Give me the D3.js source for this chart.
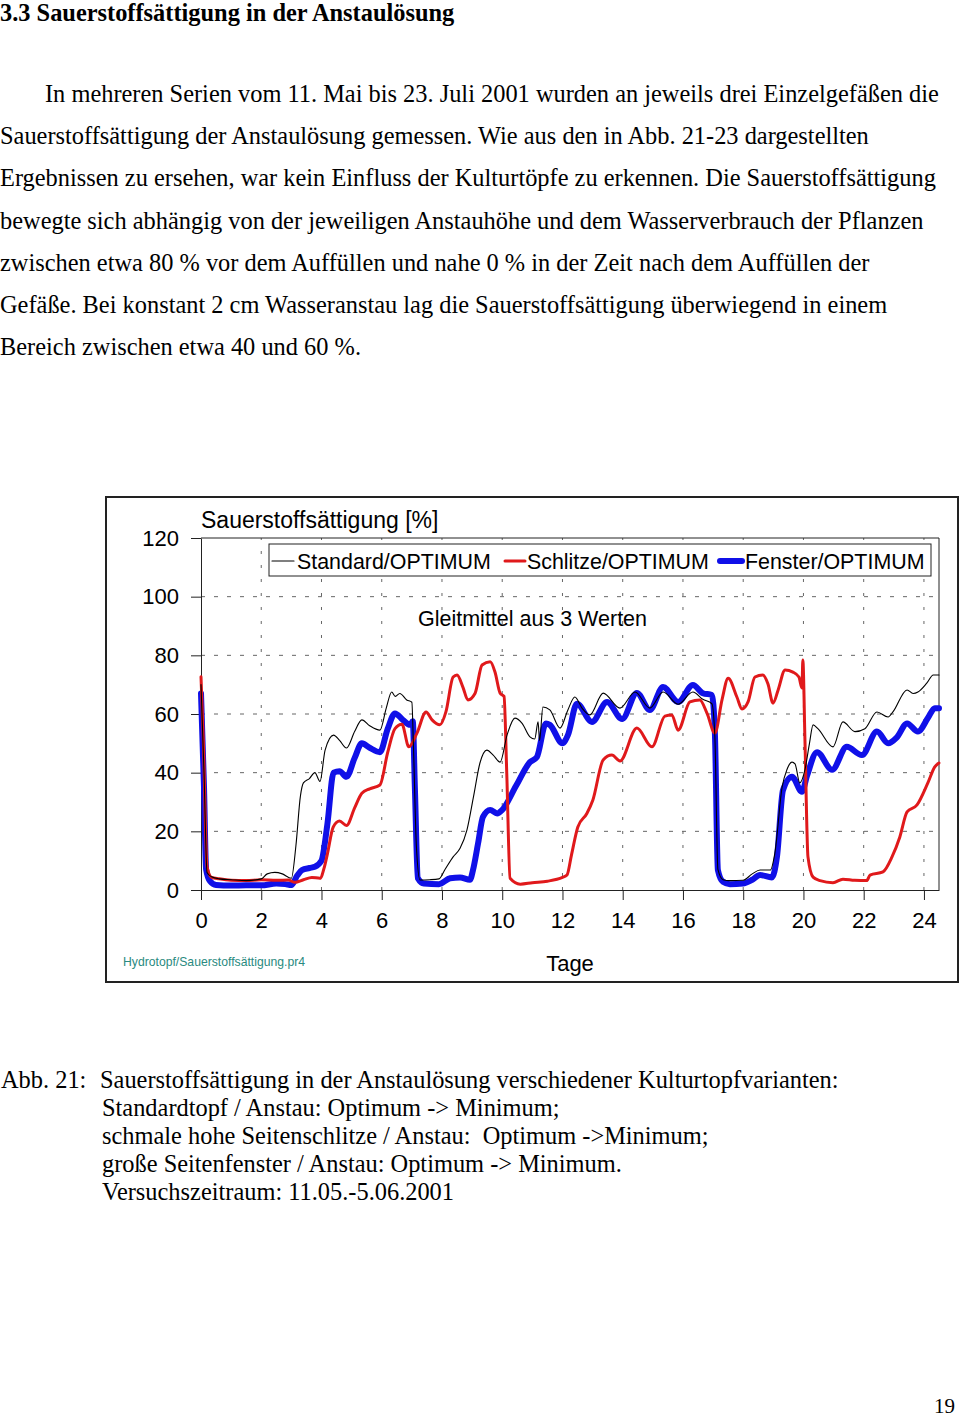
<!DOCTYPE html>
<html><head><meta charset="utf-8">
<script src="https://cdn.jsdelivr.net/npm/d3@7"></script>
<style>
html,body{margin:0;padding:0;background:#fff;}
svg text{white-space:pre;}
</style></head>
<body>
<svg id="page" width="960" height="1418"></svg>
<script>
// ---- data (days, % saturation) ----
const standard = [[0.0,70],[0.1,40],[0.2,6],[0.35,4.5],[0.6,3.8],[1.0,3.5],[1.5,3.2],[2.0,3.8],[2.2,5.5],[2.45,6],[2.7,5.5],[3.0,4],[3.15,15],[3.3,32],[3.4,36.5],[3.6,38],[3.78,40],[3.95,37],[4.12,47.7],[4.4,52.8],[4.6,51],[4.83,48.4],[5.1,54],[5.34,58],[5.6,56],[5.94,54.5],[6.15,62],[6.33,67.5],[6.45,66],[6.6,67],[6.83,64.8],[7.0,64],[7.05,50],[7.15,15],[7.27,3.4],[7.6,3.5],[7.9,3.8],[8.1,7],[8.37,11.3],[8.6,14.2],[8.83,20.5],[9.05,32],[9.26,43.3],[9.49,47.7],[9.7,46],[9.93,43.6],[10.16,52.8],[10.42,58.6],[10.66,56.8],[10.92,52.2],[11.08,51.5],[11.19,57.3],[11.24,51],[11.35,62.4],[11.58,61.4],[11.92,55.2],[12.18,61.4],[12.41,65.8],[12.65,62],[12.91,59.7],[13.35,67.1],[13.91,62],[14.41,67.5],[14.9,62],[15.34,67.5],[15.84,63.3],[16.33,67.5],[16.66,65],[16.96,63.5],[17.06,52],[17.16,7],[17.33,3.5],[17.56,3.2],[17.99,3.3],[18.3,5.5],[18.56,6.8],[18.9,6.8],[19.05,12.5],[19.29,35],[19.45,41],[19.62,43.6],[19.72,43],[19.88,36.5],[20.05,41],[20.2,50],[20.32,56.3],[20.48,55],[20.98,48.8],[21.31,57.3],[21.71,54],[22.04,55],[22.44,60.7],[22.81,59],[22.97,60.7],[23.44,68.2],[23.64,67],[23.8,67.5],[24.1,70.6],[24.31,73.3],[24.5,73.3]];
const schlitze = [[0.0,72.7],[0.08,50],[0.2,8],[0.35,4.3],[0.6,3.8],[1.0,3.3],[1.5,3.2],[2.0,3.5],[2.5,3.3],[2.9,3.4],[3.12,2.6],[3.4,3.5],[3.68,4.3],[3.95,4],[4.1,8],[4.2,12.5],[4.39,21.5],[4.6,23.5],[4.83,22],[5.1,28],[5.34,33],[5.6,34.5],[5.94,35.8],[6.2,47],[6.44,55],[6.67,56.5],[6.9,48.8],[7.17,53.5],[7.47,60.7],[7.67,58],[7.93,56.3],[8.13,60.7],[8.37,72.6],[8.5,73.3],[8.7,69],[8.86,64.8],[9.1,67.1],[9.33,76.7],[9.6,77.8],[9.76,74.3],[9.93,67.1],[10.06,66],[10.15,40],[10.26,4],[10.6,2],[11.0,2.5],[11.5,3],[12.0,4.3],[12.15,5.1],[12.3,12],[12.51,21.5],[12.81,26.1],[13.01,30.7],[13.35,44.3],[13.64,46],[13.91,44],[14.47,55.2],[14.97,48.8],[15.4,59.3],[15.63,59.7],[15.84,54.5],[16.23,64.1],[16.56,64.8],[16.8,60.2],[17.06,53.5],[17.3,65],[17.5,72.2],[17.79,65.8],[17.96,61.7],[18.16,64.1],[18.39,72.6],[18.65,73.3],[18.82,70.3],[18.99,63.7],[19.16,68.2],[19.39,75],[19.65,74.3],[19.85,72.6],[19.95,68.9],[19.98,78.4],[20.05,51],[20.15,11.3],[20.32,4.4],[20.55,3.2],[20.98,2.5],[21.31,3.7],[21.7,3.3],[22.1,3.2],[22.21,5.1],[22.64,6.2],[22.94,11.3],[23.2,18.1],[23.44,26.6],[23.77,29],[24.13,36.5],[24.36,42],[24.5,43.3]];
const fenster = [[0.0,67],[0.1,35],[0.17,7],[0.3,3],[0.5,1.7],[1.0,1.5],[1.5,1.6],[2.0,1.6],[2.5,2.2],[2.8,2.0],[3.0,1.7],[3.2,5],[3.35,6.8],[3.6,7.5],[3.78,7.9],[4.0,10],[4.2,22.8],[4.4,40],[4.6,40.5],[4.83,38.6],[5.1,45],[5.34,50],[5.6,48.5],[5.94,47],[6.2,55],[6.44,60.2],[6.7,58],[6.94,56.3],[7.03,57.5],[7.1,35],[7.2,4],[7.4,2.2],[7.9,2.0],[8.27,4],[8.6,4.3],[8.93,3.5],[9.03,6.8],[9.2,16],[9.36,24.9],[9.6,27.3],[9.83,26.1],[10.0,27.3],[10.46,35.5],[10.92,43.6],[11.15,45.3],[11.45,56.8],[11.58,56.3],[12.0,50],[12.18,52.8],[12.48,63.5],[12.98,57.3],[13.48,64.1],[13.98,58.3],[14.47,67.2],[14.9,61.4],[15.34,69.2],[15.84,64.1],[16.33,69.9],[16.66,67.1],[16.96,66.5],[17.06,53.5],[17.16,6.8],[17.33,2.8],[17.56,2.0],[17.99,2.2],[18.3,3.5],[18.56,5.1],[18.95,4.3],[19.12,11.3],[19.32,34],[19.62,38.6],[19.95,33.5],[20.12,39],[20.45,47],[20.95,41],[21.44,48.8],[21.94,46],[22.44,54],[22.81,50],[23.1,52],[23.44,56.8],[23.8,54],[24.13,58.6],[24.36,62],[24.5,62]];
const xTicks = [0,2,4,6,8,10,12,14,16,18,20,22,24];
const yTicks = [0,20,40,60,80,100,120];
const seriesNames = ["Standard/OPTIMUM","Schlitze/OPTIMUM","Fenster/OPTIMUM"];
const titleText = "3.3 Sauerstoffsättigung in der Anstaulösung";
const bodyLines = [
 "In mehreren Serien vom 11. Mai bis 23. Juli 2001 wurden an jeweils drei Einzelgefäßen die",
 "Sauerstoffsättigung der Anstaulösung gemessen. Wie aus den in Abb. 21-23 dargestellten",
 "Ergebnissen zu ersehen, war kein Einfluss der Kulturtöpfe zu erkennen. Die Sauerstoffsättigung",
 "bewegte sich abhängig von der jeweiligen Anstauhöhe und dem Wasserverbrauch der Pflanzen",
 "zwischen etwa 80 % vor dem Auffüllen und nahe 0 % in der Zeit nach dem Auffüllen der",
 "Gefäße. Bei konstant 2 cm Wasseranstau lag die Sauerstoffsättigung überwiegend in einem",
 "Bereich zwischen etwa 40 und 60 %."
];
const captionLines = [
 "Sauerstoffsättigung in der Anstaulösung verschiedener Kulturtopfvarianten:",
 "Standardtopf / Anstau: Optimum -> Minimum;",
 "schmale hohe Seitenschlitze / Anstau:  Optimum ->Minimum;",
 "große Seitenfenster / Anstau: Optimum -> Minimum.",
 "Versuchszeitraum: 11.05.-5.06.2001"
];

const svg = d3.select("#page");
svg.append("rect").attr("width",960).attr("height",1418).attr("fill","#fff");
const serif = "'Liberation Serif','Times New Roman',serif";
const sans = "'Liberation Sans',Arial,sans-serif";
const FS = 24.4;

// page text
svg.append("text").attr("x",0).attr("y",21).attr("font-family",serif).attr("font-size",FS).attr("font-weight","bold").text(titleText);
bodyLines.forEach((t,i)=>{
  svg.append("text").attr("x", i===0?45:0).attr("y",102+i*42.2).attr("font-family",serif).attr("font-size",FS).text(t);
});
svg.append("text").attr("x",1).attr("y",1088).attr("font-family",serif).attr("font-size",FS).text("Abb. 21:");
captionLines.forEach((t,i)=>{
  svg.append("text").attr("x", i===0?100:102).attr("y",1088+i*28).attr("font-family",serif).attr("font-size",FS).text(t);
});
svg.append("text").attr("x",955).attr("y",1413).attr("text-anchor","end").attr("font-family",serif).attr("font-size",21).text("19");

// chart frame
svg.append("rect").attr("x",106).attr("y",497).attr("width",852).attr("height",485)
  .attr("fill","none").attr("stroke","#222").attr("stroke-width",2);

const x = d3.scaleLinear().domain([0,24.5]).range([201,939]);
const y = d3.scaleLinear().domain([0,120]).range([890,538]);

// grid
const g = svg.append("g");
g.selectAll(".hg").data(yTicks.filter(v=>v>0&&v<120)).join("line")
  .attr("x1",x(0)).attr("x2",x(24.5)).attr("y1",d=>y(d)).attr("y2",d=>y(d))
  .attr("stroke","#666").attr("stroke-width",1).attr("stroke-dasharray","4,9");
g.selectAll(".vg").data(xTicks.filter(v=>v>0)).join("line")
  .attr("x1",d=>x(d)).attr("x2",d=>x(d)).attr("y1",y(0)).attr("y2",y(120))
  .attr("stroke","#666").attr("stroke-width",1).attr("stroke-dasharray","3,11");

// axes
const xAxis = svg.append("g").attr("transform",`translate(0,${y(0)})`)
  .call(d3.axisBottom(x).tickValues(xTicks).tickSize(10).tickPadding(12).tickSizeOuter(0));
const yAxis = svg.append("g").attr("transform",`translate(${x(0)},0)`)
  .call(d3.axisLeft(y).tickValues(yTicks).tickSize(10).tickPadding(12).tickSizeOuter(0));
[xAxis,yAxis].forEach(a=>{
  a.select(".domain").attr("stroke","#222");
  a.selectAll(".tick line").attr("stroke","#222");
  a.selectAll("text").attr("font-family",sans).attr("font-size",22).attr("fill","#000");
});
// plot frame top/right
svg.append("line").attr("x1",x(0)).attr("x2",x(24.5)).attr("y1",y(120)).attr("y2",y(120)).attr("stroke","#222");
svg.append("line").attr("x1",x(24.5)).attr("x2",x(24.5)).attr("y1",y(120)).attr("y2",y(0)).attr("stroke","#222");

// series
const line = d3.line().x(d=>x(d[0])).y(d=>y(d[1])).curve(d3.curveMonotoneX);
const styles = [
  {data:fenster, color:"#1010e8", w:6},
  {data:schlitze, color:"#e0191b", w:3},
  {data:standard, color:"#000", w:1.1}
];
styles.forEach(s=>{
  svg.append("path").datum(s.data).attr("d",line).attr("fill","none")
    .attr("stroke",s.color).attr("stroke-width",s.w).attr("stroke-linejoin","round").attr("stroke-linecap","round");
});

// legend
svg.append("rect").attr("x",269).attr("y",544).attr("width",662).attr("height",32)
  .attr("fill","#fff").attr("stroke","#222").attr("stroke-width",1);
const leg = [
  {name:seriesNames[0], color:"#000", w:1.1, x1:272, x2:294, tx:297},
  {name:seriesNames[1], color:"#e0191b", w:3, x1:505, x2:525, tx:527},
  {name:seriesNames[2], color:"#1010e8", w:6, x1:720, x2:742, tx:745}
];
leg.forEach(l=>{
  svg.append("line").attr("x1",l.x1).attr("x2",l.x2).attr("y1",561).attr("y2",561)
    .attr("stroke",l.color).attr("stroke-width",l.w).attr("stroke-linecap","round");
  svg.append("text").attr("x",l.tx).attr("y",569).attr("font-family",sans).attr("font-size",21.4).text(l.name);
});

// chart texts
svg.append("text").attr("x",201).attr("y",528).attr("font-family",sans).attr("font-size",23).text("Sauerstoffsättigung [%]");
svg.append("text").attr("x",418).attr("y",626).attr("font-family",sans).attr("font-size",21.5).text("Gleitmittel aus 3 Werten");
svg.append("text").attr("x",570).attr("y",971).attr("text-anchor","middle").attr("font-family",sans).attr("font-size",22).text("Tage");
svg.append("text").attr("x",123).attr("y",966).attr("font-family",sans).attr("font-size",12.2).attr("fill","#2a8a80").text("Hydrotopf/Sauerstoffsättigung.pr4");
</script>
</body></html>
